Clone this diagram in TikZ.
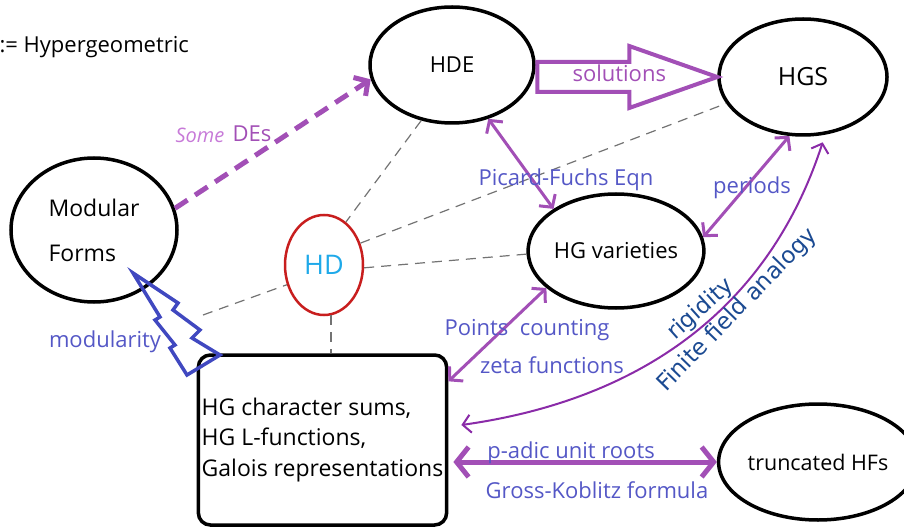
\documentclass[tikz,border=0pt]{standalone}
\usepackage{fontspec}
\setmainfont{Open Sans}
\newfontfamily\handfont{DejaVu Sans}
\usepackage{tikz}
\usepackage{xcolor}
\usetikzlibrary{arrows.meta,shapes.geometric,calc}

\definecolor{hgpurple}{HTML}{A24FB6}
\definecolor{hgviolet}{HTML}{8A2BA8}
\definecolor{hgblue}{HTML}{5457C6}
\definecolor{hgink}{HTML}{1B4A92}
\definecolor{hgcyan}{HTML}{1EA9E9}
\definecolor{hgred}{HTML}{C81E1E}
\definecolor{hgsome}{HTML}{C77AD8}
\definecolor{boltblue}{HTML}{4048C0}

\tikzset{
  oval/.style={ellipse,draw,line width=3.5pt,inner sep=0pt},
  lbl/.style={text=hgblue},
  hand/.style={text=hgink,font=\handfont\fontsize{23}{26}\selectfont,inner sep=1pt},
  greydash/.style={draw=black!55,line width=1.2pt,dash pattern=on 10pt off 7pt},
  twoway/.style={hgpurple,line width=3pt,{Straight Barb[length=9pt,width=20pt]}-{Straight Barb[length=9pt,width=20pt]}},
}

\begin{document}
\begin{tikzpicture}[x=1pt,y=1pt,font=\fontsize{22}{26}\selectfont]
\useasboundingbox (0,0) rectangle (904,528);
\node[anchor=west] (title) at (-4,481) {:= Hypergeometric};
% the objects
\node[oval,minimum width=164,minimum height=116] (hde) at (452,463) {HDE};
\node[oval,minimum width=168,minimum height=116,font=\fontsize{25}{30}\selectfont] (hgs) at (803,451) {HGS};
\node[oval,minimum width=166,minimum height=144,align=left,font=\fontsize{23}{45}\selectfont] (mf) at (94,298) {Modular\\Forms};
\node[oval,draw=hgred,line width=2.5pt,minimum width=78,minimum height=100,text=hgcyan,font=\fontsize{27}{30}\selectfont] (hd) at (324,263) {HD};
\node[oval,minimum width=166,minimum height=114] (hgv) at (616,277) {HG varieties};
\node[draw,line width=3.5pt,rounded corners=12pt,minimum width=245,minimum height=170,align=left,font=\fontsize{23}{30.5}\selectfont] (box) at (322.5,88) {HG character sums,\\HG L-functions,\\Galois representations};
\node[oval,minimum width=166,minimum height=116,font=\fontsize{21.5}{25}\selectfont] (thf) at (818,66) {truncated HFs};
% grey dashed links to HD
\coordinate (mfend) at (203,213);
\draw[greydash] (hde.241) -- (hd.63);
\draw[greydash] (hd.31) -- (hgs.199);
\draw[greydash] (hd.-4) -- (hgv.182);
\draw[greydash] (mfend) -- (hd.208);
\draw[greydash] (hd.-82) -- (hd.-82 |- box.north);
% purple arrows
\draw[hgpurple,line width=5pt,dash pattern=on 15pt off 9pt,-{Straight Barb[length=10pt,width=22pt]}] (mf.15) -- (hde.190);
\node[text=hgsome,font=\itshape\fontsize{20}{22}\selectfont] (some) at (200,393) {Some};
\node[text=hgpurple] (des) at (252,394) {DEs};
\draw[hgpurple,line width=4pt,line join=miter] ($(hgs.west)+(-180,15)$) -- ($(hgs.west)+(-88,15)$) -- ($(hgs.west)+(-88,31)$) -- (hgs.west) -- ($(hgs.west)+(-88,-31)$) -- ($(hgs.west)+(-88,-15)$) -- ($(hgs.west)+(-180,-15)$) -- cycle;
\node[text=hgpurple] (sol) at ($(hgs.west)+(-98,4)$) {solutions};
\draw[twoway] (hde.-56) -- (hgv.146);
\node[lbl] (pf) at (566,348) {Picard-Fuchs Eqn};
\draw[twoway] (hgv.9) -- (hgs.-103);
\node[lbl] (per) at (752,340) {periods};
\draw[twoway] (box.25) -- (hgv.208);
\node[lbl] (pts) at (527,198) {Points\ \ counting};
\node[lbl] (zeta) at (552,163) {zeta functions};
\draw[hgviolet,line width=2pt,{Straight Barb[length=8pt,width=18pt]}-{Straight Barb[length=8pt,width=18pt]},shorten >=8pt] ($(box.east)+(13,15)$) to[out=8,in=-108]
  node[hand,pos=0.555,sloped,above] (rig) {rigidity}
  node[hand,pos=0.61,sloped,below] (ffa) {Finite field analogy} (hgs.-69);
\draw[hgpurple,line width=5pt,{Straight Barb[length=12pt,width=30pt]}-{Straight Barb[length=12pt,width=30pt]},shorten <=5pt] (thf.west -| box.east) -- (thf.west);
\node[lbl] (pad) at (571,75) {p-adic unit roots};
\node[lbl] (gk) at (597,38) {Gross-Koblitz formula};
% modularity bolt
\draw[boltblue,line width=3.5pt,line join=miter] (133,255) -- (178,225) -- (173,218) -- (200,198) -- (192,190) -- (220,173) -- (187,153) -- (170,180) -- (175,183) -- (155,208) -- (160,211) -- cycle;
\node[lbl] (mod) at (105,186) {modularity};
\end{tikzpicture}
\end{document}
